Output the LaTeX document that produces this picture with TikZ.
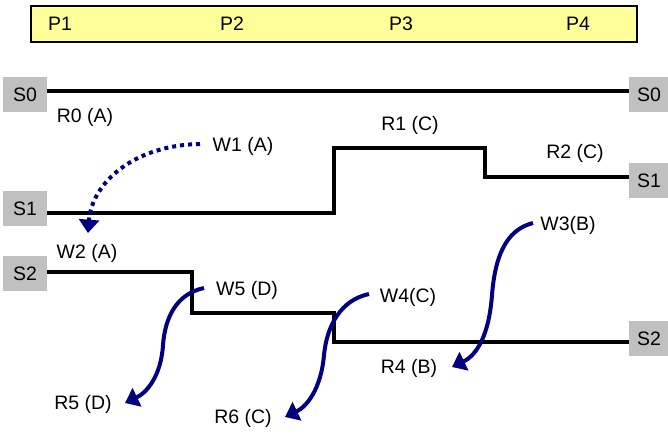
\documentclass[tikz,border=0pt]{standalone}
\usepackage{fontspec}
\setmainfont{Liberation Sans}
\usetikzlibrary{arrows.meta}
\definecolor{msgblue}{RGB}{0,0,128}
\definecolor{boxgray}{RGB}{192,192,192}
\definecolor{paleyellow}{RGB}{255,255,153}
\begin{document}
\begin{tikzpicture}[x=0.75pt,y=-0.75pt,
  font=\fontsize{14.6}{17}\selectfont,
  lbl/.style={inner sep=0pt, anchor=center},
  sboxl/.style={fill=boxgray, minimum width=33pt, minimum height=26.25pt, inner sep=0pt},
  sboxr/.style={fill=boxgray, minimum width=30pt, minimum height=26.25pt, inner sep=0pt},
  phasebar/.style={draw=black, fill=paleyellow, line width=1.6pt, minimum width=454.5pt, minimum height=27pt, inner sep=0pt},
  sig/.style={line width=3pt},
  msg/.style={draw=msgblue, line width=3pt, -{Triangle[length=10pt,width=15pt]}, fill=none},
  msgdot/.style={msg, dash pattern=on 3pt off 3pt}]
\useasboundingbox (0,0) rectangle (668,439);

% phase bar
\node[phasebar] (bar) at (334,24) {};
\node[lbl] (p1) at (60,24) {P1};
\node[lbl] (p2) at (232,24) {P2};
\node[lbl] (p3) at (401,24) {P3};
\node[lbl] (p4) at (578,24) {P4};

% state boxes
\node[sboxl] (s0l) at (25,94.5) {S0};
\node[sboxr] (s0r) at (649,94.5) {S0};
\node[sboxl] (s1l) at (25,208.5) {S1};
\node[sboxr] (s1r) at (649,180.5) {S1};
\node[sboxl] (s2l) at (25,273.5) {S2};
\node[sboxr] (s2r) at (649,338.5) {S2};

% signal lines
\draw[sig] (s0l.east |- 0,91) -- (s0r.west |- 0,91);
\draw[sig] (s1l.east |- 0,213) -- (334,213) -- (334,148) -- (485,148) -- (485,177) -- (s1r.west |- 0,177);
\draw[sig] (s2l.east |- 0,272) -- (192,272) -- (192,313) -- (334,313) -- (334,342) -- (s2r.west |- 0,342);

% labels
\node[lbl] (r0) at (85,117) {R0 (A)};
\node[lbl] (w1) at (243,146) {W1 (A)};
\node[lbl] (r1) at (410,125) {R1 (C)};
\node[lbl] (r2) at (575,153) {R2 (C)};
\node[lbl] (w2) at (87,253) {W2 (A)};
\node[lbl] (w3) at (568,225) {W3(B)};
\node[lbl] (w5) at (247,290) {W5 (D)};
\node[lbl] (w4) at (408,297) {W4(C)};
\node[lbl] (r4) at (409,368) {R4 (B)};
\node[lbl] (r5) at (83,404) {R5 (D)};
\node[lbl] (r6) at (243,418) {R6 (C)};

% arrow end points
\coordinate (w1tip) at (88,233);
\coordinate (w3tip) at (452,367);
\coordinate (w5tip) at (125,403);
\coordinate (w4tip) at (285,417);

% message arrows
\draw[msgdot] (200,144) .. controls (135,145) and (92,182) .. (w1tip);
\draw[msg] (533,223) .. controls (505,230) and (495,258) .. (492,295)
   .. controls (489,335) and (477,355) .. (w3tip);
\draw[msg] (204,288) .. controls (176,294) and (165,318) .. (163,345)
   .. controls (161,377) and (146,393) .. (w5tip);
\draw[msg] (369,294) .. controls (341,300) and (327,325) .. (324,355)
   .. controls (321,390) and (306,407) .. (w4tip);
\end{tikzpicture}
\end{document}
